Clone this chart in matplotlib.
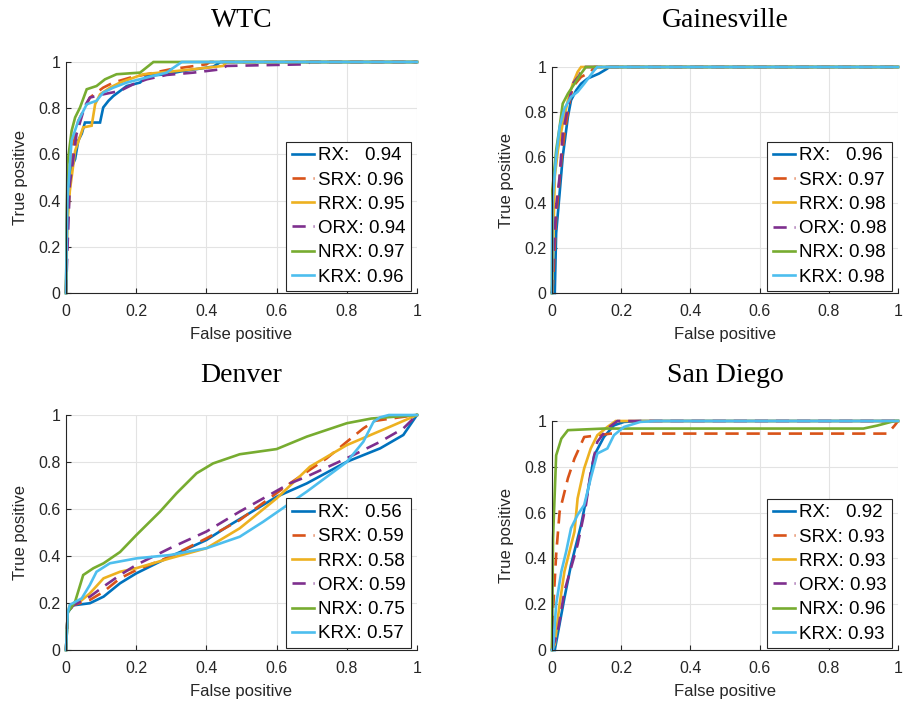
import matplotlib
matplotlib.use("Agg")
import matplotlib.pyplot as plt

# --- data (false positive rate, true positive rate) ---
methods = ["RX", "SRX", "RRX", "ORX", "NRX", "KRX"]
titles = ["WTC", "Gainesville", "Denver", "San Diego"]

wtc_auc = [0.94, 0.96, 0.95, 0.94, 0.97, 0.96]
gainesville_auc = [0.96, 0.97, 0.98, 0.98, 0.98, 0.98]
denver_auc = [0.56, 0.59, 0.58, 0.59, 0.75, 0.57]
sandiego_auc = [0.92, 0.93, 0.93, 0.93, 0.96, 0.93]

wtc_rx = [(0, 0), (0.004, 0.47), (0.016, 0.544), (0.026, 0.58), (0.035, 0.66), (0.045, 0.69),
          (0.054, 0.738), (0.097, 0.738), (0.106, 0.803), (0.121, 0.832), (0.135, 0.853),
          (0.173, 0.896), (0.211, 0.911), (0.23, 0.94), (0.287, 0.947), (0.33, 0.96),
          (0.42, 0.98), (0.44, 1), (1, 1)]
wtc_srx = [(0, 0), (0.004, 0.357), (0.021, 0.645), (0.035, 0.745), (0.068, 0.846), (0.106, 0.889),
           (0.135, 0.911), (0.182, 0.932), (0.296, 0.968), (0.4, 0.99), (0.41, 1), (1, 1)]
wtc_rrx = [(0, 0), (0.004, 0.3), (0.011, 0.443), (0.026, 0.616), (0.049, 0.717), (0.073, 0.724),
           (0.083, 0.817), (0.097, 0.86), (0.125, 0.889), (0.154, 0.911), (0.22, 0.947),
           (0.315, 0.961), (0.448, 0.983), (0.458, 1), (1, 1)]
wtc_orx = [(0, 0), (0.004, 0.184), (0.011, 0.47), (0.03, 0.688), (0.054, 0.81), (0.068, 0.846),
           (0.106, 0.86), (0.154, 0.875), (0.192, 0.904), (0.23, 0.925), (0.287, 0.944),
           (0.363, 0.954), (0.439, 0.968), (0.458, 0.983), (0.686, 0.99), (0.695, 1), (1, 1)]
wtc_nrx = [(0, 0), (0.004, 0.558), (0.016, 0.702), (0.026, 0.76), (0.04, 0.803), (0.059, 0.882),
           (0.087, 0.896), (0.111, 0.925), (0.144, 0.947), (0.211, 0.954), (0.235, 0.983),
           (0.249, 1), (1, 1)]
wtc_krx = [(0, 0), (0.004, 0.4), (0.016, 0.66), (0.035, 0.745), (0.059, 0.817), (0.087, 0.832),
           (0.106, 0.868), (0.135, 0.889), (0.173, 0.911), (0.249, 0.94), (0.287, 0.954),
           (0.306, 0.975), (0.33, 1), (1, 1)]

gai_rx = [(0, 0), (0.008, 0), (0.012, 0.265), (0.022, 0.441), (0.031, 0.603), (0.046, 0.78),
          (0.055, 0.853), (0.07, 0.897), (0.084, 0.926), (0.103, 0.949), (0.136, 0.971),
          (0.16, 0.993), (0.165, 1), (1, 1)]
gai_srx = [(0, 0), (0.003, 0.044), (0.012, 0.338), (0.027, 0.588), (0.036, 0.706), (0.05, 0.838),
           (0.06, 0.912), (0.084, 0.956), (0.112, 0.978), (0.122, 1), (1, 1)]
gai_rrx = [(0, 0), (0.001, 0.044), (0.008, 0.515), (0.017, 0.632), (0.031, 0.75), (0.046, 0.853),
           (0.06, 0.926), (0.074, 0.978), (0.084, 1), (1, 1)]
gai_orx = [(0, 0), (0.003, 0.118), (0.012, 0.382), (0.022, 0.515), (0.031, 0.706), (0.046, 0.824),
           (0.06, 0.926), (0.079, 0.963), (0.089, 1), (1, 1)]
gai_nrx = [(0, 0), (0.001, 0.456), (0.012, 0.632), (0.022, 0.735), (0.031, 0.838), (0.046, 0.882),
           (0.065, 0.926), (0.084, 0.971), (0.098, 1), (1, 1)]
gai_krx = [(0, 0), (0.001, 0.397), (0.012, 0.603), (0.022, 0.735), (0.036, 0.816), (0.055, 0.868),
           (0.074, 0.89), (0.093, 0.926), (0.108, 0.956), (0.122, 0.985), (0.131, 1), (1, 1)]

den_rx = [(0, 0), (0.005, 0.16), (0.02, 0.19), (0.068, 0.199), (0.107, 0.227), (0.154, 0.284),
          (0.2, 0.326), (0.296, 0.397), (0.4, 0.468), (0.467, 0.532), (0.6, 0.652),
          (0.686, 0.709), (0.8, 0.801), (0.895, 0.858), (0.961, 0.915), (1, 1)]
den_srx = [(0, 0), (0.005, 0.16), (0.02, 0.19), (0.068, 0.213), (0.107, 0.248), (0.154, 0.305),
           (0.2, 0.34), (0.296, 0.397), (0.4, 0.475), (0.495, 0.553), (0.638, 0.709),
           (0.743, 0.816), (0.8, 0.886), (0.847, 0.943), (0.88, 0.975), (0.95, 0.99), (1, 1)]
den_rrx = [(0, 0), (0.005, 0.16), (0.011, 0.19), (0.04, 0.206), (0.068, 0.241), (0.107, 0.305),
           (0.154, 0.333), (0.2, 0.348), (0.296, 0.39), (0.4, 0.433), (0.495, 0.518),
           (0.6, 0.645), (0.695, 0.78), (0.8, 0.872), (0.923, 0.95), (1, 1)]
den_orx = [(0, 0), (0.005, 0.16), (0.02, 0.19), (0.068, 0.227), (0.107, 0.27), (0.154, 0.319),
           (0.2, 0.362), (0.296, 0.433), (0.4, 0.504), (0.495, 0.589), (0.638, 0.709),
           (0.686, 0.738), (0.8, 0.816), (0.895, 0.886), (0.961, 0.943), (1, 1)]
den_nrx = [(0, 0), (0.005, 0.16), (0.026, 0.206), (0.049, 0.319), (0.078, 0.348), (0.107, 0.369),
           (0.154, 0.417), (0.201, 0.49), (0.268, 0.589), (0.315, 0.667), (0.372, 0.752),
           (0.419, 0.794), (0.495, 0.833), (0.6, 0.855), (0.686, 0.908), (0.8, 0.965),
           (0.87, 0.985), (1, 1)]
den_krx = [(0, 0), (0.005, 0.16), (0.011, 0.192), (0.045, 0.22), (0.068, 0.277), (0.087, 0.333),
           (0.125, 0.369), (0.201, 0.39), (0.296, 0.404), (0.4, 0.433), (0.495, 0.482),
           (0.562, 0.546), (0.686, 0.674), (0.8, 0.8), (0.847, 0.886), (0.876, 0.971),
           (0.895, 0.99), (0.92, 1), (1, 1)]

sd_rx = [(0, 0), (0.008, 0), (0.036, 0.228), (0.055, 0.372), (0.084, 0.546), (0.103, 0.691),
         (0.122, 0.85), (0.15, 0.93), (0.179, 0.981), (0.208, 0.996), (0.255, 1), (1, 1)]
sd_srx = [(0, 0), (0.003, 0.17), (0.012, 0.416), (0.022, 0.604), (0.046, 0.75), (0.065, 0.836),
          (0.093, 0.93), (0.17, 0.945), (0.97, 0.945), (0.99, 0.98), (1, 1)]
sd_rrx = [(0, 0), (0.008, 0.025), (0.022, 0.2), (0.036, 0.343), (0.065, 0.517), (0.074, 0.662),
          (0.093, 0.793), (0.112, 0.88), (0.131, 0.938), (0.16, 0.974), (0.184, 1), (1, 1)]
sd_orx = [(0, 0), (0.017, 0.083), (0.036, 0.257), (0.074, 0.46), (0.098, 0.633), (0.112, 0.778),
          (0.131, 0.909), (0.16, 0.967), (0.189, 1), (1, 1)]
sd_nrx = [(0, 0), (0.003, 0.488), (0.012, 0.85), (0.027, 0.923), (0.046, 0.96), (0.15, 0.967),
          (0.9, 0.967), (0.94, 0.98), (0.99, 1), (1, 1)]
sd_krx = [(0, 0), (0.003, 0), (0.012, 0.2), (0.027, 0.343), (0.041, 0.43), (0.055, 0.532),
          (0.074, 0.59), (0.093, 0.633), (0.112, 0.75), (0.131, 0.858), (0.16, 0.88),
          (0.179, 0.938), (0.208, 0.974), (0.255, 0.996), (0.3, 1), (1, 1)]

panels = [
    ([wtc_rx, wtc_srx, wtc_rrx, wtc_orx, wtc_nrx, wtc_krx], wtc_auc),
    ([gai_rx, gai_srx, gai_rrx, gai_orx, gai_nrx, gai_krx], gainesville_auc),
    ([den_rx, den_srx, den_rrx, den_orx, den_nrx, den_krx], denver_auc),
    ([sd_rx, sd_srx, sd_rrx, sd_orx, sd_nrx, sd_krx], sandiego_auc),
]

# MATLAB default line colours
colors = ["#0072BD", "#D95319", "#EDB120", "#7E2F8E", "#77AC30", "#4DBEEE"]
dashed = [False, True, False, True, False, False]

W, H = 904, 701
# axes boxes in pixels: left, right, top, bottom
boxes = [(66, 417, 62, 293), (552, 898, 67, 293), (66, 417, 415, 650), (552, 898, 421, 650)]
title_base = [27, 27, 382, 382]

plt.rcParams["font.family"] = ["Liberation Sans", "DejaVu Sans"]
axcol = "#262626"

fig = plt.figure(figsize=(W / 100, H / 100), dpi=100)

for i, (curves, aucs) in enumerate(panels):
    l, r, t, b = boxes[i]
    ax = fig.add_axes([l / W, 1 - b / H, (r - l) / W, (b - t) / H])
    for j, pts in enumerate(curves):
        xs = [p[0] for p in pts]
        ys = [p[1] for p in pts]
        name = methods[j] + (":   " if methods[j] == "RX" else ": ")
        line, = ax.plot(xs, ys, color=colors[j], lw=1.9, label=name + f"{aucs[j]:.2f}",
                        solid_joinstyle="miter", clip_on=False)
        if dashed[j]:
            line.set_dashes((5, 3))
    ax.set_xlim(0, 1)
    ax.set_ylim(0, 1)
    ticks = [0, 0.2, 0.4, 0.6, 0.8, 1]
    ax.set_xticks(ticks)
    ax.set_yticks(ticks)
    ax.set_xticklabels(["0", "0.2", "0.4", "0.6", "0.8", "1"])
    ax.set_yticklabels(["0", "0.2", "0.4", "0.6", "0.8", "1"])
    ax.grid(True, color="#e3e3e3", lw=0.8)
    ax.set_axisbelow(True)
    for s in ["top", "right"]:
        ax.spines[s].set_visible(False)
    for s in ["left", "bottom"]:
        ax.spines[s].set_color(axcol)
        ax.spines[s].set_linewidth(0.8)
    ax.tick_params(direction="in", length=3.5, width=0.8, color=axcol, labelcolor=axcol,
                   labelsize=11.5)
    ax.tick_params(axis="x", pad=8)
    ax.tick_params(axis="y", pad=4)
    ax.set_xlabel("False positive", fontsize=12, color=axcol, labelpad=6)
    ax.set_ylabel("True positive", fontsize=12, color=axcol, labelpad=7)
    leg = ax.legend(loc="lower right", bbox_to_anchor=(0.983, 0.008), borderaxespad=0,
                    fontsize=13.5, handlelength=1.2, handletextpad=0.2, labelspacing=0.38,
                    borderpad=0.3, fancybox=False, framealpha=1, edgecolor=axcol)
    leg.get_frame().set_linewidth(0.8)
    leg.set_zorder(5)
    fig.text((l + r) / 2 / W, 1 - title_base[i] / H, titles[i], ha="center", va="baseline",
             fontsize=20, family=["Liberation Serif", "DejaVu Serif"])

fig.savefig("out.png", dpi=100)
